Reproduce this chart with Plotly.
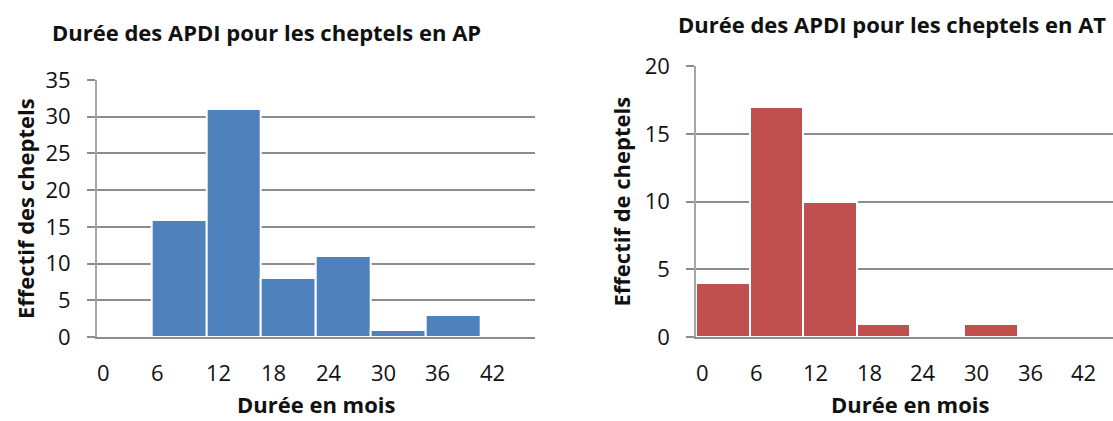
import plotly.graph_objects as go

# Data
bin_starts = [0, 6, 12, 18, 24, 30, 36, 42]
bin_width = 6
counts_ap = [0, 16, 31, 8, 11, 1, 3, 0]
counts_at = [4, 17, 10, 1, 0, 1, 0, 0]
tick_labels = ["0", "6", "12", "18", "24", "30", "36", "42"]

title_ap = "Durée des APDI pour les cheptels en AP"
title_at = "Durée des APDI pour les cheptels en AT"
ytitle_ap = "Effectif des cheptels"
ytitle_at = "Effectif de cheptels"
xtitle = "Durée en mois"

W, H = 1113, 421
FONT = "Open Sans"
BLUE = "#4F81BD"
RED = "#C0504D"
GRID = "#8c8c8c"
AXIS = "#a6a6a6"

centers = [s + bin_width / 2 for s in bin_starts]

fig = go.Figure()
fig.add_trace(go.Bar(x=centers, y=counts_ap, width=[bin_width] * len(centers),
                     marker=dict(color=BLUE, line=dict(color="white", width=2)),
                     xaxis="x", yaxis="y", showlegend=False, hoverinfo="x+y"))
fig.add_trace(go.Bar(x=centers, y=counts_at, width=[bin_width] * len(centers),
                     marker=dict(color=RED, line=dict(color="white", width=2)),
                     xaxis="x2", yaxis="y2", showlegend=False, hoverinfo="x+y"))

yax_common = dict(showgrid=True, gridcolor=GRID, gridwidth=1.5, showline=True,
                  linecolor=AXIS, linewidth=1.5, ticks="outside", ticklen=8,
                  tickcolor=GRID, tickwidth=1.5, dtick=5, zeroline=False,
                  tickfont=dict(family=FONT, size=22, color="#111"),
                  ticklabelstandoff=12, fixedrange=True, automargin=False)
xax_common = dict(showgrid=False, showline=True, linecolor=GRID, linewidth=1.5,
                  ticks="", showticklabels=False, zeroline=False, fixedrange=True,
                  automargin=False)

fig.update_layout(
    template="none",
    width=W, height=H,
    margin=dict(l=0, r=0, t=0, b=0, pad=0, autoexpand=False),
    paper_bgcolor="white", plot_bgcolor="white",
    bargap=0,
    xaxis=dict(domain=[96.7 / W, 535 / W], range=[0, 48], anchor="y", **xax_common),
    yaxis=dict(domain=[1 - 337 / H, 1 - 80 / H], range=[0, 35], anchor="x", **yax_common),
    xaxis2=dict(domain=[696 / W, 1.0], range=[0, 6 * (W - 696) / 53.6], anchor="y2", **xax_common),
    yaxis2=dict(domain=[1 - 337.3 / H, 1 - 66 / H], range=[0, 20], anchor="x2", **yax_common),
)

ann = []
# x tick labels, left-aligned at bin starts
for xa in ("x", "x2"):
    for s, t in zip(bin_starts, tick_labels):
        ann.append(dict(x=s, y=1 - 372 / H, xref=xa, yref="paper", text=t, showarrow=False,
                        xanchor="left", yanchor="middle", xshift=-2,
                        font=dict(family=FONT, size=22, color="#111")))

bold = dict(family=FONT, size=22, color="#111")
ann += [
    dict(x=266.5 / W, y=1 - 32 / H, xref="paper", yref="paper", text="<b>%s</b>" % title_ap,
         showarrow=False, xanchor="center", yanchor="middle", font=bold),
    dict(x=891.7 / W, y=1 - 24 / H, xref="paper", yref="paper", text="<b>%s</b>" % title_at,
         showarrow=False, xanchor="center", yanchor="middle", font=bold),
    dict(x=316 / W, y=0, xref="paper", yref="paper", text="<b>%s</b>" % xtitle,
         showarrow=False, xanchor="center", yanchor="bottom", font=bold),
    dict(x=910 / W, y=0, xref="paper", yref="paper", text="<b>%s</b>" % xtitle,
         showarrow=False, xanchor="center", yanchor="bottom", font=bold),
    dict(x=25 / W, y=1 - 209 / H, xref="paper", yref="paper", text="<b>%s</b>" % ytitle_ap,
         showarrow=False, xanchor="center", yanchor="middle", textangle=-90, font=bold),
    dict(x=621 / W, y=1 - 201.5 / H, xref="paper", yref="paper", text="<b>%s</b>" % ytitle_at,
         showarrow=False, xanchor="center", yanchor="middle", textangle=-90, font=bold),
]
fig.update_layout(annotations=ann)

fig.write_html("out.html", config={"displayModeBar": False},
               post_script="document.body.style.margin='0';")
